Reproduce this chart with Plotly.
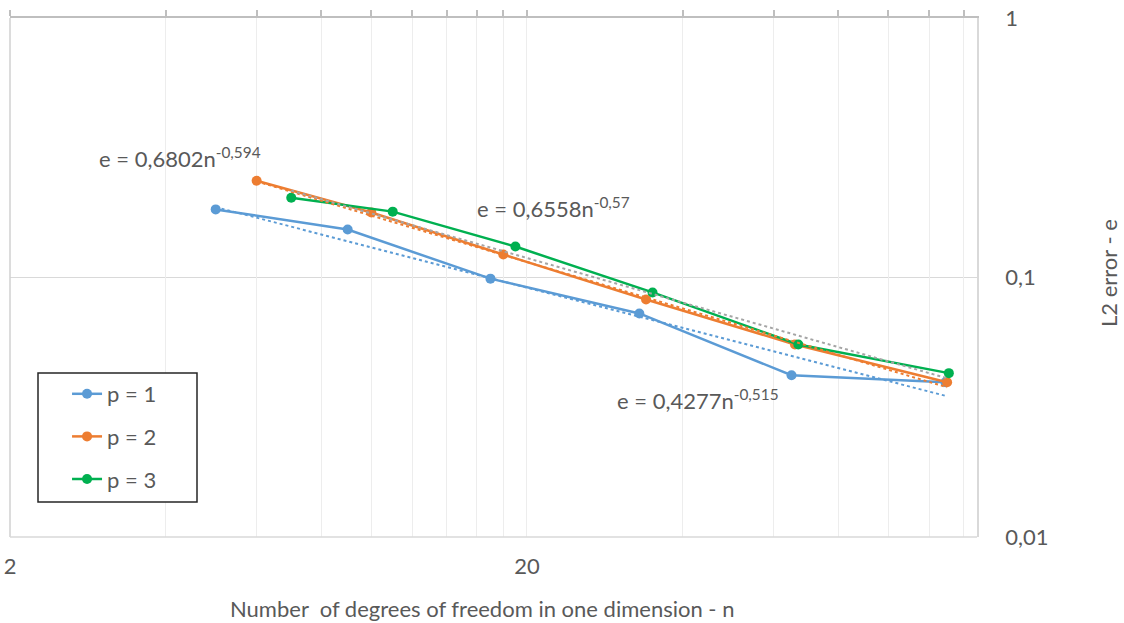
import math
import plotly.graph_objects as go

# ---- data ----
n_p1 = [5, 9, 17, 33, 65, 129]
e_p1 = [0.183, 0.153, 0.099, 0.0727, 0.042, 0.0395]
n_p2 = [6, 10, 18, 34, 66, 130]
e_p2 = [0.236, 0.178, 0.1226, 0.0823, 0.0552, 0.0395]
n_p3 = [7, 11, 19, 35, 67, 131]
e_p3 = [0.203, 0.1794, 0.1316, 0.0876, 0.0552, 0.0428]

# power trendline parameters e = a * n^b
fit_p1 = (0.4277, -0.515)
fit_p2 = (0.6802, -0.594)
fit_p3 = (0.6558, -0.57)

series_names = ["p = 1", "p = 2", "p = 3"]
x_tickvals = [2, 20]
x_ticktext = ["2", "20"]
x_topticks = [2, 4, 6, 8, 10, 12, 14, 16, 18, 20, 40, 60, 80, 100, 120, 140]
y_tickvals = [0.01, 0.1, 1]
y_ticktext = ["0,01", "0,1", "1"]

colors = ["#5B9BD5", "#ED7D31", "#00B050"]
trend_colors = ["#5B9BD5", "#ED7D31", "#A5A5A5"]
TXT = "#595959"
FONT = "Lato"
FS = 22

fig = go.Figure()

# trendlines (dotted), drawn on overlay axis x2
for ns, fit, c in [(n_p1, fit_p1, trend_colors[0]), (n_p2, fit_p2, trend_colors[1]), (n_p3, fit_p3, trend_colors[2])]:
    a, b = fit
    fig.add_trace(go.Scatter(
        x=ns, y=[a * n ** b for n in ns], mode="lines", xaxis="x2",
        line=dict(color=c, width=2, dash="dot"), showlegend=False, hoverinfo="skip"))

for i, (ns, es) in enumerate([(n_p1, e_p1), (n_p2, e_p2), (n_p3, e_p3)]):
    fig.add_trace(go.Scatter(
        x=ns, y=es, mode="lines+markers", name=series_names[i],
        legendgroup=f"g{i}",
        line=dict(color=colors[i], width=2.5),
        marker=dict(color=colors[i], size=10, symbol="circle")))

xr = [math.log10(2), math.log10(148.5)]

fig.update_layout(
    width=1124, height=623,
    margin=dict(l=10, r=147, t=18, b=86),
    paper_bgcolor="white", plot_bgcolor="white",
    font=dict(family=FONT, size=FS, color=TXT),
    xaxis=dict(type="log", range=xr, tickvals=x_tickvals, ticktext=x_ticktext,
               showgrid=True, gridcolor="#D9D9D9", gridwidth=1, automargin=False,
               showline=False, zeroline=False, ticks="", ticklabelstandoff=14,
               tickfont=dict(size=FS, color=TXT)),
    xaxis2=dict(type="log", range=xr, overlaying="x", side="top", anchor="y",
                tickvals=x_topticks, showticklabels=False, automargin=False,
                ticks="outside", ticklen=6, tickcolor="#BFBFBF", tickwidth=1.5,
                showline=True, linecolor="#BFBFBF", linewidth=1.5,
                showgrid=True, gridcolor="#EDEDED", gridwidth=1, zeroline=False),
    yaxis=dict(type="log", range=[-2, 0], side="right", tickvals=y_tickvals, ticktext=y_ticktext,
               showgrid=True, gridcolor="#D9D9D9", gridwidth=1, automargin=False,
               showline=True, linecolor="#D9D9D9", linewidth=1.5, zeroline=False,
               ticks="", ticklabelstandoff=22, tickfont=dict(size=FS, color=TXT)),
    legend=dict(x=0.029, y=0.316, xanchor="left", yanchor="top",
                borderwidth=0, bgcolor="rgba(0,0,0,0)",
                font=dict(size=FS, color=TXT), tracegroupgap=11,
                indentation=29),
    showlegend=True,
)

# borders
fig.add_shape(type="line", xref="paper", yref="paper", x0=0, x1=0, y0=0, y1=1,
              line=dict(color="#D0D0D0", width=1.5))
fig.add_shape(type="line", xref="paper", yref="paper", x0=0, x1=1, y0=0, y1=0,
              line=dict(color="#D9D9D9", width=1.5))
# legend frame
fig.add_shape(type="rect", xref="paper", yref="paper", layer="above",
              x0=(38 - 10) / 967, x1=(197 - 10) / 967, y0=(537 - 502) / 519, y1=(537 - 373) / 519,
              line=dict(color="#262626", width=1.5), fillcolor="white")

# trendline equations
eqs = [("e = 0,6802n<sup>-0,594</sup>", (97 - 10) / 967, (537 - 157) / 519),
       ("e = 0,6558n<sup>-0,57</sup>", (475 - 10) / 967, (537 - 207) / 519),
       ("e = 0,4277n<sup>-0,515</sup>", (615 - 10) / 967, (537 - 399) / 519)]
for t, x, y in eqs:
    fig.add_annotation(text=t, xref="paper", yref="paper", x=x, y=y, xanchor="left",
                       yanchor="middle", showarrow=False, font=dict(size=FS, color=TXT))

# axis titles
fig.add_annotation(text="Number  of degrees of freedom in one dimension - n", xref="paper", yref="paper",
                   x=(482 - 10) / 967, y=-(608 - 537) / 519, xanchor="center", yanchor="middle",
                   showarrow=False, font=dict(size=FS, color=TXT))
fig.add_annotation(text="L2 error - e", xref="paper", yref="paper",
                   x=(1108 - 10) / 967, y=(537 - 273) / 519, xanchor="center", yanchor="middle",
                   textangle=-90, showarrow=False, font=dict(size=FS, color=TXT))

fig.write_html("out.html", config={"displayModeBar": False},
               post_script="document.body.style.margin='0';")
